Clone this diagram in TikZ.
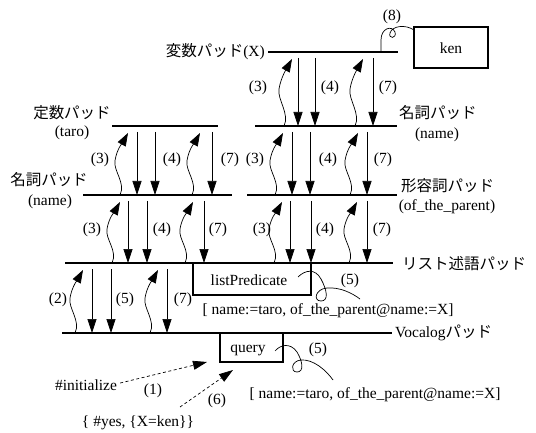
\documentclass[tikz,border=0pt]{standalone}
\usepackage{fontspec}
\setmainfont{Liberation Serif}
\newfontfamily\jp{Noto Sans CJK JP}
\usetikzlibrary{arrows.meta}
\tikzset{
  pad/.style={line width=2pt},
  darr/.style={line width=0.7pt,-{Triangle[length=14pt,width=9pt]}},
  warr/.style={line width=0.7pt,-{Triangle[length=13pt,width=9pt]}},
  dasharr/.style={line width=0.7pt,dashed,dash pattern=on 3pt off 2.5pt,-{Triangle[length=14pt,width=9pt]}},
  boxline/.style={line width=1.2pt},
  lab/.style={font=\fontsize{15.5}{17}\selectfont,inner sep=0pt},
  jlab/.style={font=\fontsize{15.5}{17}\selectfont\jp,inner sep=0pt},
  string/.style={line width=0.7pt},
}
\newcommand\downar[3]{\draw[darr] (#1,#2+6) -- (#1,#3);}
\newcommand\wig[3]{\draw[warr] (#1-8,#3) .. controls (#1-2,#3-12) and (#1-15,{(#2+#3)/2+10}) .. (#1-13,{(#2+#3)/2}) .. controls (#1-11,{(#2+#3)/2-12}) and (#1-5,#2+16) .. (#1,#2+7);}
\begin{document}
\begin{tikzpicture}[x=1pt,y=-1pt]
\useasboundingbox (0,0) rectangle (536,433);
% pads
\draw[pad] (268,52) coordinate (var-w) -- (398,52) coordinate (var-e);
\draw[pad] (112,126) coordinate (con-w) -- (218,126) coordinate (con-e);
\draw[pad] (255,126) coordinate (nr-w) -- (397,126) coordinate (nr-e);
\draw[pad] (83,195) coordinate (nl-w) -- (232,195) coordinate (nl-e);
\draw[pad] (247,195) coordinate (adj-w) -- (397,195) coordinate (adj-e);
\draw[pad] (65,263) coordinate (lp-w) -- (393,263) coordinate (lp-e);
\draw[pad] (62,333) coordinate (vo-w) -- (392,333) coordinate (vo-e);
% pad labels
\node[jlab,anchor=east] (varlab) at (265,52) {変数パッド\rmfamily(X)};
\node[jlab] (conlab) at (72,113) {定数パッド};
\node[lab] (conarg) at (72,133) {(taro)};
\node[jlab] (nllab) at (49,180) {名詞パッド};
\node[lab] (nlarg) at (50,202) {(name)};
\node[jlab,anchor=west] (nrlab) at (399,113) {名詞パッド};
\node[lab] (nrarg) at (437,135) {(name)};
\node[jlab,anchor=west] (adjlab) at (401,186) {形容詞パッド};
\node[lab] (adjarg) at (447,207) {(of\_the\_parent)};
\node[jlab,anchor=west] (lplab) at (402,264) {リスト述語パッド};
\node[lab,anchor=west] (volab) at (395,333) {Vocalog{\jp パッド}};
% ken box
\draw[boxline] (414,27) rectangle (488,68);
\node[lab] (ken) at (451,48) {ken};
\node[lab] (l8) at (392,17) {(8)};
\draw[string] (381,52) -- (381,40) .. controls (381,28) and (392,25) .. (395,32) .. controls (397,39) and (388,39) .. (390,33) .. controls (392,26) and (405,24) .. (414,30);
% zone A
\wig{292}{52}{126} \downar{298}{52}{126} \downar{315}{52}{126} \wig{363}{52}{126} \downar{373}{52}{126}
\node[lab] (a3) at (258,88) {(3)}; \node[lab] (a4) at (330,88) {(4)}; \node[lab] (a7) at (388,88) {(7)};
% zone B
\wig{128}{126}{195} \downar{137}{126}{195} \downar{155}{126}{195} \wig{200}{126}{195} \downar{212}{126}{195}
\node[lab] (b3) at (100,160) {(3)}; \node[lab] (b4) at (172,160) {(4)}; \node[lab] (b7) at (230,160) {(7)};
% zone C
\wig{283}{126}{195} \downar{292}{126}{195} \downar{310}{126}{195} \wig{358}{126}{195} \downar{367}{126}{195}
\node[lab] (c3) at (255,160) {(3)}; \node[lab] (c4) at (328,160) {(4)}; \node[lab] (c7) at (383,160) {(7)};
% zone D
\wig{120}{195}{263} \downar{128}{195}{263} \downar{147}{195}{263} \wig{193}{195}{263} \downar{204}{195}{263}
\node[lab] (d3) at (92,230) {(3)}; \node[lab] (d4) at (162,230) {(4)}; \node[lab] (d7) at (218,230) {(7)};
% zone E
\wig{282}{195}{263} \downar{290}{195}{263} \downar{311}{195}{263} \wig{357}{195}{263} \downar{367}{195}{263}
\node[lab] (e3) at (262,230) {(3)}; \node[lab] (e4) at (325,230) {(4)}; \node[lab] (e7) at (382,230) {(7)};
% zone F
\wig{83}{263}{333} \downar{92}{263}{333} \downar{111}{263}{333} \wig{158}{263}{333} \downar{167}{263}{333}
\node[lab] (f2) at (58,300) {(2)}; \node[lab] (f5) at (125,300) {(5)}; \node[lab] (f7) at (183,300) {(7)};
% listPredicate box
\draw[boxline] (193,263) -- (193,295) -- (311,295) -- (311,263);
\node[lab] (lp) at (249,280) {listPredicate};
\node[lab] (lp5) at (350,281) {(5)};
\draw[string] (298,277) .. controls (305,270) and (315,268) .. (321,279) .. controls (327,290) and (329,301) .. (321,301) .. controls (313,301) and (315,289) .. (327,288) .. controls (340,287) and (352,293) .. (360,299);
\node[lab] (res1) at (328,311) {[ name:=taro, of\_the\_parent@name:=X]};
% query box
\draw[boxline] (220,333) -- (220,362) -- (283,362) -- (283,333);
\node[lab] (query) at (248,350) {query};
\node[lab] (q5) at (318,350) {(5)};
\draw[string] (275,351) .. controls (280,345) and (290,342) .. (297,352) .. controls (303,362) and (304,372) .. (297,372) .. controls (290,372) and (291,361) .. (301,360) .. controls (313,359) and (326,370) .. (333,380);
\node[lab] (res2) at (375,395) {[ name:=taro, of\_the\_parent@name:=X]};
% init and result
\node[lab] (init) at (86,385) {\#initialize};
\node[lab] (l1) at (153,391) {(1)};
\node[lab] (l6) at (217,401) {(6)};
\node[lab] (yes) at (138,423) {\{ \#yes, \{X=ken\}\}};
\coordinate (inittip) at (207,362);
\coordinate (yestip) at (233,370);
\coordinate (yesfrom) at (180,407);
\draw[dasharr] (init.east) ++(3,-2) -- (inittip);
\draw[dasharr] (yesfrom) -- (yestip);
\end{tikzpicture}
\end{document}
